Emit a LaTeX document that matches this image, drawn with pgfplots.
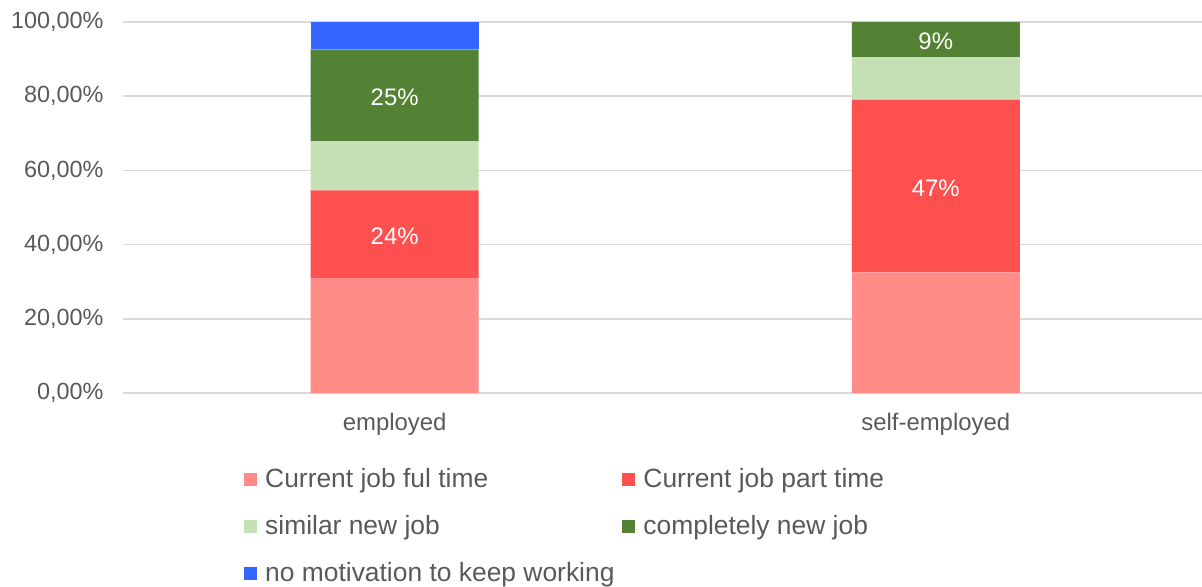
\documentclass[border=0pt]{standalone}
\usepackage{pgfplots}
\pgfplotsset{compat=1.18}
\usepackage{fontspec}
\setmainfont{Liberation Sans}
\definecolor{cFull}{HTML}{FF8C86}
\definecolor{cPart}{HTML}{FF5050}
\definecolor{cSim}{HTML}{C5E0B4}
\definecolor{cNew}{HTML}{548235}
\definecolor{cNo}{HTML}{3366FF}
\definecolor{txt}{HTML}{595959}
\definecolor{grd}{HTML}{D9D9D9}
\begin{document}
\begin{tikzpicture}
\begin{axis}[
  name=ax,
  scale only axis,
  width=1079bp, height=371bp,
  ybar stacked,
  bar width=168bp,
  xmin=-0.502, xmax=1.492,
  ymin=0, ymax=100,
  xtick={0,1},
  xticklabels={employed,self-employed},
  ytick={0,20,40,60,80,100},
  yticklabels={{0,00\%},{20,00\%},{40,00\%},{60,00\%},{80,00\%},{100,00\%}},
  /pgf/number format/assume math mode=true,
  ymajorgrids,
  grid style={grd, line width=1.5bp},
  axis line style={draw=none},
  tick style={draw=none},
  yticklabel style={font=\fontsize{23.5}{27}\selectfont, text=txt, xshift=-16bp},
  xticklabel style={font=\fontsize{24}{28}\selectfont, text=txt, yshift=-17bp},
  legend columns=2,
  legend cell align=left,
  legend style={draw=none, fill=none, at={(rel axis cs:0.1094,-0.191)}, anchor=north west,
    font=\fontsize{26.5}{30}\selectfont, text=txt,
    row sep=22.5bp,
    /tikz/every odd column/.append style={column sep=6bp},
    /tikz/every even column/.append style={column sep=6bp}},
  legend image code/.code={\fill[#1,draw=none] (0bp,-7.5bp) rectangle (13bp,5.5bp);},
  nodes near coords style={font=\fontsize{24}{28}\selectfont, text=white, anchor=center, yshift=-2bp},
]
\addplot[fill=cFull, draw=none] coordinates {(0,30.8) (1,32.5)};
\addlegendentry{Current job ful time}
\addplot[fill=cPart, draw=none, nodes near coords, point meta=explicit symbolic]
  coordinates {(0,23.8) [24\%] (1,46.5) [47\%]};
\addlegendentry{Current job part time}
\addplot[fill=cSim, draw=none] coordinates {(0,13.2) (1,11.5)};
\addlegendentry{similar new job}
\addplot[fill=cNew, draw=none, nodes near coords, point meta=explicit symbolic]
  coordinates {(0,24.8) [25\%] (1,9.5) [9\%]};
\addlegendentry{completely new job}
\addplot[fill=cNo, draw=none] coordinates {(0,7.4) (1,0)};
\addlegendentry{no motivation to keep working}
\end{axis}
\pgfresetboundingbox
\path ([xshift=-123bp,yshift=-194bp]ax.south west) rectangle ([yshift=22bp]ax.north east);
\end{tikzpicture}
\end{document}
